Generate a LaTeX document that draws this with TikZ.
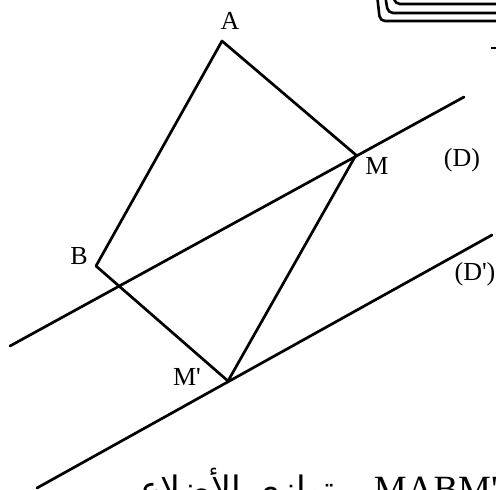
\documentclass[tikz,border=0pt]{standalone}
\usepackage{fontspec}
\setmainfont{Liberation Serif}
\newfontfamily\arabicfont[Script=Arabic]{DejaVu Sans}
\TeXXeTstate=1
\begin{document}
\begin{tikzpicture}[x=1pt,y=-1pt,
  seg/.style={line width=2.7pt,line cap=round,line join=round},
  lbl/.style={font=\fontsize{26}{28}\selectfont,inner sep=0pt},
  deco/.style={line width=2.6pt,rounded corners=5pt}]
\useasboundingbox (0,0) rectangle (496,490);
% points
\coordinate (A) at (222,41);
\coordinate (M) at (356,155);
\coordinate (B) at (96,266);
\coordinate (Mp) at (228,381);
\coordinate (D1) at (10,346);
\coordinate (D2) at (464,97);
\coordinate (E1) at (37,488);
\coordinate (E2) at (492,235);
% lines
\draw[seg] (D1) -- (D2);
\draw[seg] (E1) -- (E2);
\draw[seg] (A) -- (M) -- (Mp) -- (B) -- cycle;
% labels
\node[lbl] (lA) at (230,21) {A};
\node[lbl] (lB) at (79,256) {B};
\node[lbl] (lM) at (377,166) {M};
\node[lbl] (lMp) at (187,377) {M\textquotesingle};
\node[lbl] (lD) at (462,160) {(D)};
\node[lbl] (lDp) at (475,274) {(D\textquotesingle)};
% decorative frame corner
\draw[deco] (377,-5) -- (380,21) -- (500,21);
\draw[deco] (385,-5) -- (388,13) -- (500,13);
\draw[deco] (393,-5) -- (395,4) -- (500,4);
\draw[line width=2pt] (491,48) -- (496,48);
% caption (cut by the lower edge, as in the reference)
\node[anchor=base east,inner sep=0pt,font=\fontsize{37}{40}\selectfont] (cap1) at (498,501) {MABM\textquotesingle};
\node[anchor=base east,inner sep=0pt,font=\fontsize{35}{40}\selectfont] (cap2) at (354,501) {\arabicfont\beginR متوازي الأضلاع\endR};
\end{tikzpicture}
\end{document}
